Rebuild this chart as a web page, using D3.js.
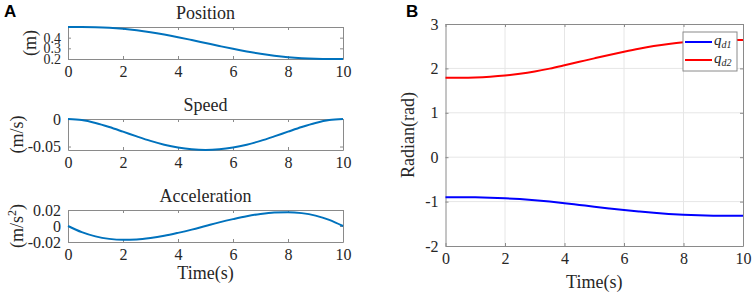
<!DOCTYPE html>
<html>
<head>
<meta charset="utf-8">
<script src="https://cdn.jsdelivr.net/npm/d3@7"></script>
<style>
  body { margin: 0; background: #fff; }
  svg { display: block; }
  text { font-family: "Liberation Serif", "Times New Roman", serif; fill: #262626; }
</style>
</head>
<body>
<svg id="chart" width="754" height="294"></svg>
<script>
// tempi (s)
const time = [0, 0.5, 1, 1.5, 2, 2.5, 3, 3.5, 4, 4.5, 5, 5.5, 6, 6.5, 7, 7.5, 8, 8.5, 9, 9.5, 10];

// pannello A
const position = [0.5, 0.4997, 0.4974, 0.492, 0.4826, 0.4689, 0.4511, 0.4294, 0.4048, 0.3779, 0.35,
  0.3221, 0.2952, 0.2706, 0.2489, 0.2311, 0.2174, 0.208, 0.2026, 0.2003, 0.2];
const speed = [0, -0.002, -0.0073, -0.0146, -0.023, -0.0316, -0.0397, -0.0466, -0.0518, -0.0551, -0.0563,
  -0.0551, -0.0518, -0.0466, -0.0397, -0.0316, -0.023, -0.0146, -0.0073, -0.002, 0];
const acceleration = [0, -0.0077, -0.013, -0.0161, -0.0173, -0.0169, -0.0151, -0.0123, -0.0086, -0.0045, 0,
  0.0045, 0.0086, 0.0123, 0.0151, 0.0169, 0.0173, 0.0161, 0.013, 0.0077, 0];

// pannello B
const qd1 = [-0.9, -0.9005, -0.9036, -0.9112, -0.9243, -0.9435, -0.9685, -0.9988, -1.035, -1.075, -1.115,
  -1.153, -1.189, -1.222, -1.252, -1.277, -1.296, -1.309, -1.316, -1.319, -1.32];
const qd2 = [1.79, 1.791, 1.797, 1.813, 1.839, 1.878, 1.93, 1.995, 2.07, 2.148, 2.226,
  2.302, 2.374, 2.442, 2.502, 2.552, 2.591, 2.617, 2.633, 2.639, 2.64];

const xTicks = [0, 2, 4, 6, 8, 10];
const posTicks = [0.2, 0.3, 0.4];
const speedTicks = [-0.05, 0];
const accTicks = [-0.02, 0, 0.02];
const radTicks = [-2, -1, 0, 1, 2, 3];

const svg = d3.select("#chart");
const fmt = d => String(d);
const axisColor = "#8a8a8a";

// Funzione per disegnare un riquadro stile MATLAB
function drawBox(g, x, y, xt, yt, yFont) {
  const [x0, x1] = x.range();
  const [y1, y0] = y.range();
  const xb = g.append("g").attr("transform", `translate(0,${y1})`)
    .call(d3.axisBottom(x).tickValues(xt).tickSizeInner(-3).tickSizeOuter(0).tickPadding(7).tickFormat(fmt));
  g.append("g").attr("transform", `translate(0,${y0})`)
    .call(d3.axisTop(x).tickValues(xt).tickSizeInner(-3).tickSizeOuter(0).tickFormat(""));
  const yb = g.append("g").attr("transform", `translate(${x0},0)`)
    .call(d3.axisLeft(y).tickValues(yt).tickSizeInner(-3).tickSizeOuter(0).tickPadding(7).tickFormat(fmt));
  g.append("g").attr("transform", `translate(${x1},0)`)
    .call(d3.axisRight(y).tickValues(yt).tickSizeInner(-3).tickSizeOuter(0).tickFormat(""));
  g.selectAll("g").attr("font-family", null).attr("font-size", null);
  g.selectAll(".domain, .tick line").attr("stroke", axisColor);
  xb.selectAll(".tick text").style("font-size", "16px").style("fill", "#262626");
  yb.selectAll(".tick text").style("font-size", (yFont || 16) + "px").style("fill", "#262626");
}

function drawLine(g, x, y, ys, color) {
  const line = d3.line().x((d, i) => x(time[i])).y(d => y(d)).curve(d3.curveMonotoneX);
  g.append("path").datum(ys).attr("d", line)
    .attr("fill", "none").attr("stroke", color).attr("stroke-width", 2);
}

// ---- Pannello A ----
const xA = d3.scaleLinear().domain([0, 10]).range([68, 343]);
const subplots = [
  { title: "Position", data: position, domain: [0.2, 0.5], ticks: posTicks, top: 27, bottom: 59, ylab: "(m)", ylx: 36, yFont: 14 },
  { title: "Speed", data: speed, domain: [-0.0563, 0], ticks: speedTicks, top: 119, bottom: 150, ylab: "(m/s)", ylx: 23 },
  { title: "Acceleration", data: acceleration, domain: [-0.02, 0.02], ticks: accTicks, top: 210, bottom: 242, ylab: "(m/s", sup: "2", ylx: 23 }
];

subplots.forEach(p => {
  const g = svg.append("g");
  const y = d3.scaleLinear().domain(p.domain).range([p.bottom, p.top]);
  drawBox(g, xA, y, xTicks, p.ticks, p.yFont);
  drawLine(g, xA, y, p.data, "#0072BD");
  g.append("text").attr("x", (68 + 343) / 2).attr("y", p.top - 8)
    .attr("text-anchor", "middle").attr("font-size", 18).text(p.title);
  const yl = g.append("text")
    .attr("transform", `translate(${p.ylx},${(p.top + p.bottom) / 2}) rotate(-90)`)
    .attr("text-anchor", "middle").attr("font-size", 18);
  yl.append("tspan").text(p.ylab);
  if (p.sup) {
    yl.append("tspan").attr("font-size", 12).attr("dy", -7).text(p.sup);
    yl.append("tspan").attr("dy", 7).text(")");
  }
});

svg.append("text").attr("x", (68 + 343) / 2).attr("y", 279)
  .attr("text-anchor", "middle").attr("font-size", 18).text("Time(s)");

// ---- Pannello B ----
const xB = d3.scaleLinear().domain([0, 10]).range([445.5, 743]);
const yB = d3.scaleLinear().domain([-2, 3]).range([246, 24]);
const gB = svg.append("g");

gB.append("g").selectAll("line").data(xTicks.slice(1, -1)).enter().append("line")
  .attr("x1", d => xB(d)).attr("x2", d => xB(d)).attr("y1", 24).attr("y2", 246)
  .attr("stroke", "#e6e6e6");
gB.append("g").selectAll("line").data(radTicks.slice(1, -1)).enter().append("line")
  .attr("x1", 445.5).attr("x2", 743).attr("y1", d => yB(d)).attr("y2", d => yB(d))
  .attr("stroke", "#e6e6e6");

drawBox(gB, xB, yB, xTicks, radTicks);
drawLine(gB, xB, yB, qd1, "#0000ff");
drawLine(gB, xB, yB, qd2, "#ff0000");

gB.append("text").attr("x", (445.5 + 743) / 2).attr("y", 288)
  .attr("text-anchor", "middle").attr("font-size", 18).text("Time(s)");
gB.append("text").attr("transform", `translate(414,135) rotate(-90)`)
  .attr("text-anchor", "middle").attr("font-size", 18).text("Radian(rad)");

// legenda
const legend = [{ name: "d1", color: "#0000ff" }, { name: "d2", color: "#ff0000" }];
const lg = gB.append("g");
lg.append("rect").attr("x", 683).attr("y", 32).attr("width", 54).attr("height", 39)
  .attr("fill", "#fff").attr("stroke", axisColor);
legend.forEach((d, i) => {
  const yy = 42 + i * 18;
  lg.append("line").attr("x1", 685).attr("x2", 712).attr("y1", yy).attr("y2", yy)
    .attr("stroke", d.color).attr("stroke-width", 2);
  const t = lg.append("text").attr("x", 714).attr("y", yy + 3).attr("font-size", 15)
    .attr("font-style", "italic");
  t.append("tspan").text("q");
  t.append("tspan").attr("font-size", 10).attr("dy", 3).text(d.name);
});

// etichette dei pannelli
svg.append("text").attr("x", 4).attr("y", 17).attr("font-size", 17).attr("font-weight", "bold")
  .style("font-family", "Liberation Sans, Arial, sans-serif").style("fill", "#000").text("A");
svg.append("text").attr("x", 406).attr("y", 17).attr("font-size", 17).attr("font-weight", "bold")
  .style("font-family", "Liberation Sans, Arial, sans-serif").style("fill", "#000").text("B");
</script>
</body>
</html>
